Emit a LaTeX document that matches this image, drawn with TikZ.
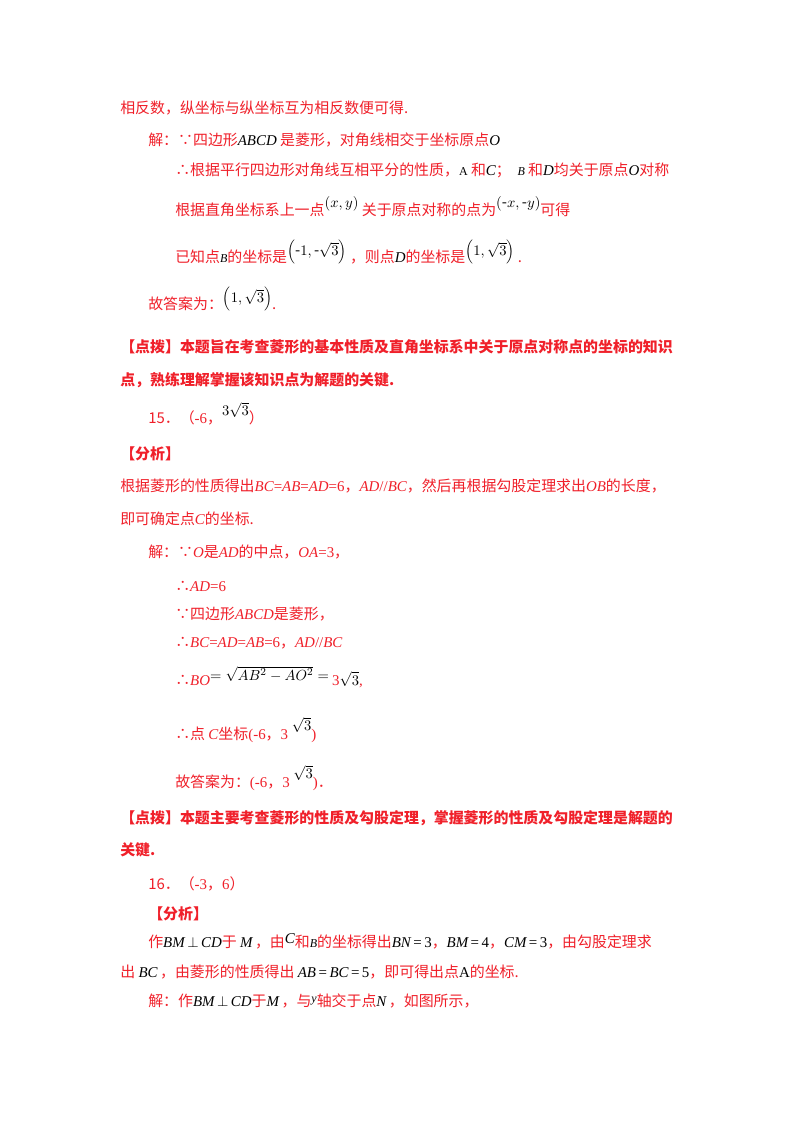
\documentclass[tikz,border=0pt]{standalone}
\usepackage{fontspec}
\setmainfont{Noto Sans CJK SC}
\newfontfamily\tms{Liberation Serif}
\definecolor{rd}{HTML}{F0202A}
\newcommand\mb[1]{{\color{black}\tms\itshape #1}}
\newcommand\mr[1]{{\tms\itshape #1}}
\newcommand\nr[1]{{\tms #1}}
\begin{document}
\begin{tikzpicture}[x=0.75pt,y=-0.75pt,
  ln/.style={anchor=west,inner sep=0pt,text=rd,font=\fontsize{11.2}{13}\selectfont},
  bd/.style={ln,font=\fontsize{11.2}{13}\selectfont\bfseries}]
\useasboundingbox (0,0) rectangle (800,1132);
\fill[white] (0,0) rectangle (800,1132);
\node[ln] (l1) at (120,108) {相反数，纵坐标与纵坐标互为相反数便可得.};
\node[ln] (l2) at (148,140) {解：∵四边形\mb{ABCD} 是菱形，对角线相交于坐标原点\mb{O}};
\node[ln] (l3) at (175,170) {∴根据平行四边形对角线互相平分的性质，\nr{\color{black}\small A} 和\mb{C}；\ \ \mb{\small B} 和\mb{D}均关于原点\mb{O}对称};
\node[ln] (l4) at (175,207) {根据直角坐标系上一点\raisebox{1ex}{\color{black}$(x,y)$} 关于原点对称的点为\raisebox{1ex}{\color{black}$(\mbox{-}x,\mbox{-}y)$}可得};
\node[ln] (l5) at (175,252) {已知点\mb{\small B}的坐标是\raisebox{0.8ex}{\color{black}$\left(\mbox{-}1,\mbox{-}\sqrt{3}\right)$}\ ，则点\mb{D}的坐标是\raisebox{0.8ex}{\color{black}$\left(1,\sqrt{3}\right)$}\ .};
\node[ln] (l6) at (148,299) {故答案为：\raisebox{0.8ex}{\color{black}$\left(1,\sqrt{3}\right)$}.};
\node[bd] (l7) at (120,347) {【点拨】本题旨在考查菱形的基本性质及直角坐标系中关于原点对称点的坐标的知识};
\node[bd] (l8) at (120,380) {点，熟练理解掌握该知识点为解题的关键.};
\node[ln] (l9) at (148,414) {15．（\nr{-6}，\raisebox{1ex}{\color{black}$3\sqrt{3}$}）};
\node[bd] (l10) at (120,454) {【分析】};
\node[ln] (l11) at (120,486) {根据菱形的性质得出\mr{BC}\nr{=}\mr{AB}\nr{=}\mr{AD}\nr{=6}，\mr{AD}\nr{//}\mr{BC}，然后再根据勾股定理求出\mr{OB}的长度，};
\node[ln] (l12) at (120,519) {即可确定点\mr{C}的坐标.};
\node[ln] (l13) at (148,552) {解：∵\mr{O}是\mr{AD}的中点，\mr{OA}\nr{=3}，};
\node[ln] (l14) at (175,586) {∴\mr{AD}\nr{=6}};
\node[ln] (l15) at (175,614) {∵四边形\mr{ABCD}是菱形，};
\node[ln] (l16) at (175,643) {∴\mr{BC}\nr{=}\mr{AD}\nr{=}\mr{AB}\nr{=6}，\mr{AD}\nr{//}\mr{BC}};
\node[ln] (l17) at (175,677) {∴\mr{BO}\raisebox{0.6ex}{\color{black}$=\sqrt{AB^2-AO^2}=$}\ \nr{3}{\color{black}$\sqrt{3}$}\nr{,}};
\node[ln] (l18) at (175,730) {∴点\ \mr{C}坐标\nr{(-6}，\nr{3 \raisebox{1.3ex}{\color{black}$\sqrt{3}$})}};
\node[ln] (l19) at (175,778) {故答案为：\nr{(-6}，\nr{3 \raisebox{1.3ex}{\color{black}$\sqrt{3}$})}．};
\node[bd] (l20) at (120,818) {【点拨】本题主要考查菱形的性质及勾股定理，掌握菱形的性质及勾股定理是解题的};
\node[bd] (l21) at (120,850) {关键.};
\node[ln] (l22) at (148,884) {16．（\nr{-3}，\nr{6}）};
\node[bd] (l23) at (148,914) {【分析】};
\node[ln] (l24) at (148,941) {作\mb{BM}\,{\color{black}$\perp$}\,\mb{CD}于\ \mb{M}\,，由\raisebox{0.5ex}{\mb{C}}和\mb{\small B}的坐标得出\mb{BN}{\color{black}\tms\,=\,3}，\mb{BM}{\color{black}\tms\,=\,4}，\mb{CM}{\color{black}\tms\,=\,3}，由勾股定理求};
\node[ln] (l25) at (120,972) {出\ \mb{BC}\,，由菱形的性质得出\ \mb{AB}{\color{black}\tms\,=\,}\mb{BC}{\color{black}\tms\,=\,5}，即可得出点\nr{\color{black}A}的坐标.};
\node[ln] (l26) at (148,1001) {解：作\mb{BM}\,{\color{black}$\perp$}\,\mb{CD}于\mb{M}\,，与\raisebox{0.5ex}{\mb{\small y}}轴交于点\mb{N}\,，如图所示，};
\end{tikzpicture}
\end{document}
